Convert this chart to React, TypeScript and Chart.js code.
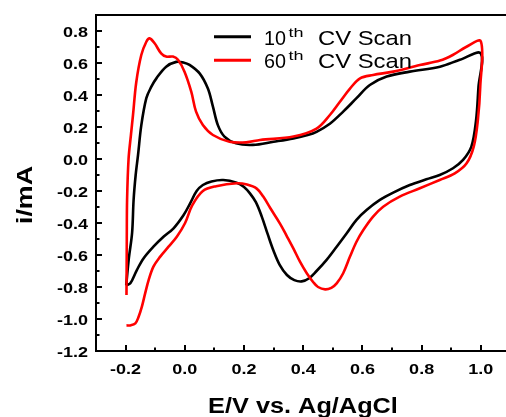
import { useEffect, useRef } from 'react';
import { Chart, registerables } from 'chart.js';

Chart.register(...registerables);

// 10th scan: anodic sweep from -0.2 V to 1.0 V, then cathodic sweep back to -0.2 V
const scan10Potential = [
  -0.198, -0.189, -0.178, -0.173, -0.166, -0.158, -0.147, -0.13, -0.113, -0.096,
  -0.063, -0.029, -0.005, 0.016, 0.05, 0.078, 0.095, 0.112, 0.134, 0.173,
  0.23, 0.3, 0.367, 0.415, 0.445, 0.49, 0.535, 0.58, 0.625, 0.682,
  0.76, 0.862, 0.929, 1.0,
  0.992, 0.984, 0.968, 0.94, 0.906, 0.861, 0.816, 0.76, 0.704, 0.659,
  0.614, 0.58, 0.547, 0.513, 0.479, 0.445, 0.42, 0.395, 0.37, 0.345,
  0.32, 0.3, 0.28, 0.26, 0.24, 0.22, 0.2, 0.175, 0.13, 0.09,
  0.061, 0.04, 0.018, -0.004, -0.038, -0.072, -0.106, -0.139, -0.162, -0.184,
  -0.198,
];
const scan10Current = [
  -0.79, -0.62, -0.46, -0.256, -0.1, 0.025, 0.21, 0.38, 0.452, 0.504,
  0.577, 0.607, 0.603, 0.588, 0.535, 0.44, 0.327, 0.21, 0.14, 0.098,
  0.088, 0.108, 0.129, 0.15, 0.17, 0.22, 0.296, 0.38, 0.4625, 0.515,
  0.546, 0.577, 0.62, 0.66,
  0.45, 0.244, 0.077, -0.006, -0.058, -0.1, -0.127, -0.1625, -0.21, -0.256,
  -0.319, -0.38, -0.464, -0.548, -0.63, -0.7, -0.745, -0.765, -0.757, -0.725,
  -0.66, -0.575, -0.47, -0.36, -0.27, -0.215, -0.175, -0.148, -0.131, -0.14,
  -0.1625, -0.2, -0.277, -0.35, -0.433, -0.486, -0.548, -0.62, -0.694, -0.777,
  -0.79,
];

// 60th scan, same sweep direction
const scan60Potential = [
  -0.197, -0.196, -0.195, -0.19, -0.182, -0.175, -0.164, -0.147, -0.13, -0.119,
  -0.102, -0.08, -0.063, -0.04, -0.023, -0.001, 0.022, 0.038, 0.061, 0.095,
  0.151, 0.207, 0.254, 0.367, 0.445, 0.49, 0.524, 0.558, 0.592, 0.636,
  0.704, 0.794, 0.862, 0.905, 0.95, 1.0,
  0.998, 0.99, 0.976, 0.952, 0.912, 0.861, 0.794, 0.726, 0.67, 0.636,
  0.603, 0.58, 0.558, 0.535, 0.513, 0.495, 0.474, 0.45, 0.434, 0.412,
  0.389, 0.367, 0.344, 0.322, 0.288, 0.265, 0.243, 0.21, 0.176, 0.106,
  0.061, 0.025, 0.001, -0.027, -0.055, -0.083, -0.106, -0.122, -0.134, -0.145,
  -0.156, -0.167, -0.184, -0.197,
];
const scan60Current = [
  -0.85, -0.5, -0.256, 0.0, 0.15, 0.275, 0.48, 0.65, 0.733, 0.754,
  0.723, 0.66, 0.64, 0.64, 0.62, 0.546, 0.42, 0.296, 0.2125, 0.15,
  0.108, 0.104, 0.119, 0.14, 0.19, 0.275, 0.358, 0.44, 0.504, 0.525,
  0.546, 0.5875, 0.615, 0.65, 0.7, 0.735,
  0.45, 0.244, 0.077, -0.027, -0.09, -0.131, -0.183, -0.235, -0.298, -0.36,
  -0.444, -0.517, -0.61, -0.714, -0.777, -0.805, -0.815, -0.8, -0.77, -0.714,
  -0.642, -0.56, -0.48, -0.405, -0.305, -0.235, -0.185, -0.16, -0.152, -0.17,
  -0.2, -0.29, -0.4, -0.486, -0.548, -0.61, -0.673, -0.756, -0.84, -0.923,
  -0.986, -1.027, -1.04, -1.04,
];

const legendOrdinals = ['10', '60'];
const legendSuffix = 'th';
const legendText = 'CV Scan';
const seriesColors = ['#000000', '#ff0000'];

const xTickValues = [-0.2, 0.0, 0.2, 0.4, 0.6, 0.8, 1.0];
const xTickLabels = ['-0.2', '0.0', '0.2', '0.4', '0.6', '0.8', '1.0'];
const xMinorValues = [-0.1, 0.1, 0.3, 0.5, 0.7, 0.9];
const yTickValues = [-1.2, -1.0, -0.8, -0.6, -0.4, -0.2, 0.0, 0.2, 0.4, 0.6, 0.8];
const yTickLabels = ['-1.2', '-1.0', '-0.8', '-0.6', '-0.4', '-0.2', '0.0', '0.2', '0.4', '0.6', '0.8'];
const yMinorValues = [-1.1, -0.9, -0.7, -0.5, -0.3, -0.1, 0.1, 0.3, 0.5, 0.7];

const xTitle = 'E/V vs. Ag/AgCl';
const yTitle = 'i/mA';

const FONT = '"Liberation Sans", Arial, sans-serif';

function toPoints(xs: number[], ys: number[]) {
  return xs.map((x, i) => ({ x, y: ys[i] }));
}

// Draw text with a horizontal stretch factor
function stretchedText(
  ctx: CanvasRenderingContext2D,
  text: string,
  x: number,
  y: number,
  font: string,
  align: CanvasTextAlign,
  sx: number,
) {
  ctx.save();
  ctx.font = font;
  ctx.translate(x, y);
  ctx.scale(sx, 1);
  ctx.textAlign = align;
  ctx.textBaseline = 'alphabetic';
  ctx.fillStyle = '#000';
  ctx.fillText(text, 0, 0);
  ctx.restore();
}

// Draw text scaled to a given width, starting at x
function fittedText(
  ctx: CanvasRenderingContext2D,
  text: string,
  x: number,
  y: number,
  font: string,
  width: number,
) {
  ctx.save();
  ctx.font = font;
  const w = ctx.measureText(text).width;
  ctx.translate(x, y);
  ctx.scale(width / w, 1);
  ctx.textAlign = 'left';
  ctx.textBaseline = 'alphabetic';
  ctx.fillStyle = '#000';
  ctx.fillText(text, 0, 0);
  ctx.restore();
}

const framePlugin = {
  id: 'cvFrame',
  afterDraw(chart: any) {
    const ctx: CanvasRenderingContext2D = chart.ctx;
    const a = chart.chartArea;
    const xs = chart.scales.x;
    const ys = chart.scales.y;

    ctx.save();
    ctx.strokeStyle = '#000';
    ctx.lineWidth = 2;
    ctx.lineCap = 'butt';

    // frame: top, left, bottom
    ctx.beginPath();
    ctx.moveTo(a.left - 1, a.top);
    ctx.lineTo(a.right, a.top);
    ctx.moveTo(a.left, a.top);
    ctx.lineTo(a.left, a.bottom + 1);
    ctx.moveTo(a.left - 1, a.bottom);
    ctx.lineTo(a.right, a.bottom);
    ctx.stroke();

    // inward tick marks
    ctx.beginPath();
    xTickValues.forEach((v) => {
      const p = Math.round(xs.getPixelForValue(v));
      ctx.moveTo(p, a.bottom);
      ctx.lineTo(p, a.bottom - 6);
    });
    xMinorValues.forEach((v) => {
      const p = Math.round(xs.getPixelForValue(v));
      ctx.moveTo(p, a.bottom);
      ctx.lineTo(p, a.bottom - 3.5);
    });
    yTickValues.forEach((v) => {
      const p = Math.round(ys.getPixelForValue(v));
      ctx.moveTo(a.left, p);
      ctx.lineTo(a.left + 6, p);
    });
    yMinorValues.forEach((v) => {
      const p = Math.round(ys.getPixelForValue(v));
      ctx.moveTo(a.left, p);
      ctx.lineTo(a.left + 3.5, p);
    });
    ctx.stroke();
    ctx.restore();

    // tick labels
    const tickFont = `bold 15px ${FONT}`;
    xTickValues.forEach((v, i) => {
      stretchedText(ctx, xTickLabels[i], xs.getPixelForValue(v), a.bottom + 22.5, tickFont, 'center', 1.2);
    });
    yTickValues.forEach((v, i) => {
      stretchedText(ctx, yTickLabels[i], a.left - 8, ys.getPixelForValue(v) + 5.5, tickFont, 'right', 1.2);
    });

    // axis titles
    const titleFont = `bold 22px ${FONT}`;
    stretchedText(ctx, xTitle, (a.left + a.right) / 2 + 2, a.bottom + 61.5, titleFont, 'center', 1.15);
    ctx.save();
    ctx.translate(a.left - 64, (a.top + a.bottom) / 2 + 12);
    ctx.rotate(-Math.PI / 2);
    stretchedText(ctx, yTitle, 0, 0, titleFont, 'center', 1.22);
    ctx.restore();

    // legend
    const rowY = [a.top + 21.7, a.top + 45.3];
    legendOrdinals.forEach((ord, i) => {
      const y = rowY[i];
      ctx.save();
      ctx.strokeStyle = seriesColors[i];
      ctx.lineWidth = 3;
      ctx.beginPath();
      ctx.moveTo(a.left + 118, y);
      ctx.lineTo(a.left + 155, y);
      ctx.stroke();
      ctx.restore();
      const base = y + 7.8;
      fittedText(ctx, ord, a.left + 168, base, `21px ${FONT}`, 22);
      fittedText(ctx, legendSuffix, a.left + 192.5, base - 8, `13px ${FONT}`, 15);
      fittedText(ctx, legendText, a.left + 222, base, `21px ${FONT}`, 94);
    });
  },
};

export default function App() {
  const canvasRef = useRef<HTMLCanvasElement | null>(null);

  useEffect(() => {
    const canvas = canvasRef.current;
    if (!canvas) return;
    const chart = new Chart(canvas, {
      type: 'scatter',
      data: {
        datasets: [
          {
            label: `${legendOrdinals[0]}${legendSuffix} ${legendText}`,
            data: toPoints(scan10Potential, scan10Current),
            showLine: true,
            borderColor: seriesColors[0],
            backgroundColor: seriesColors[0],
            borderWidth: 2.6,
            pointRadius: 0,
            tension: 0.35,
            fill: false,
            order: 2,
          },
          {
            label: `${legendOrdinals[1]}${legendSuffix} ${legendText}`,
            data: toPoints(scan60Potential, scan60Current),
            showLine: true,
            borderColor: seriesColors[1],
            backgroundColor: seriesColors[1],
            borderWidth: 2.6,
            pointRadius: 0,
            tension: 0.35,
            fill: false,
            order: 1,
          },
        ],
      },
      options: {
        responsive: false,
        animation: false,
        devicePixelRatio: 1,
        layout: { padding: { top: 15, right: 0, bottom: 0, left: 0 } },
        plugins: {
          legend: { display: false },
          tooltip: { enabled: false },
        },
        scales: {
          x: {
            type: 'linear',
            min: -0.3,
            max: 1.085,
            ticks: { display: false },
            grid: { display: false, drawTicks: false },
            border: { display: false },
            afterFit: (s: any) => {
              s.height = 66;
            },
          },
          y: {
            type: 'linear',
            min: -1.2,
            max: 0.9,
            ticks: { display: false },
            grid: { display: false, drawTicks: false },
            border: { display: false },
            afterFit: (s: any) => {
              s.width = 96;
            },
          },
        },
      },
      plugins: [framePlugin],
    });
    return () => chart.destroy();
  }, []);

  return (
    <div style={{ position: 'absolute', left: 0, top: 0, width: 506, height: 417, background: '#fff' }}>
      <canvas ref={canvasRef} width={506} height={417} style={{ display: 'block' }} />
    </div>
  );
}
